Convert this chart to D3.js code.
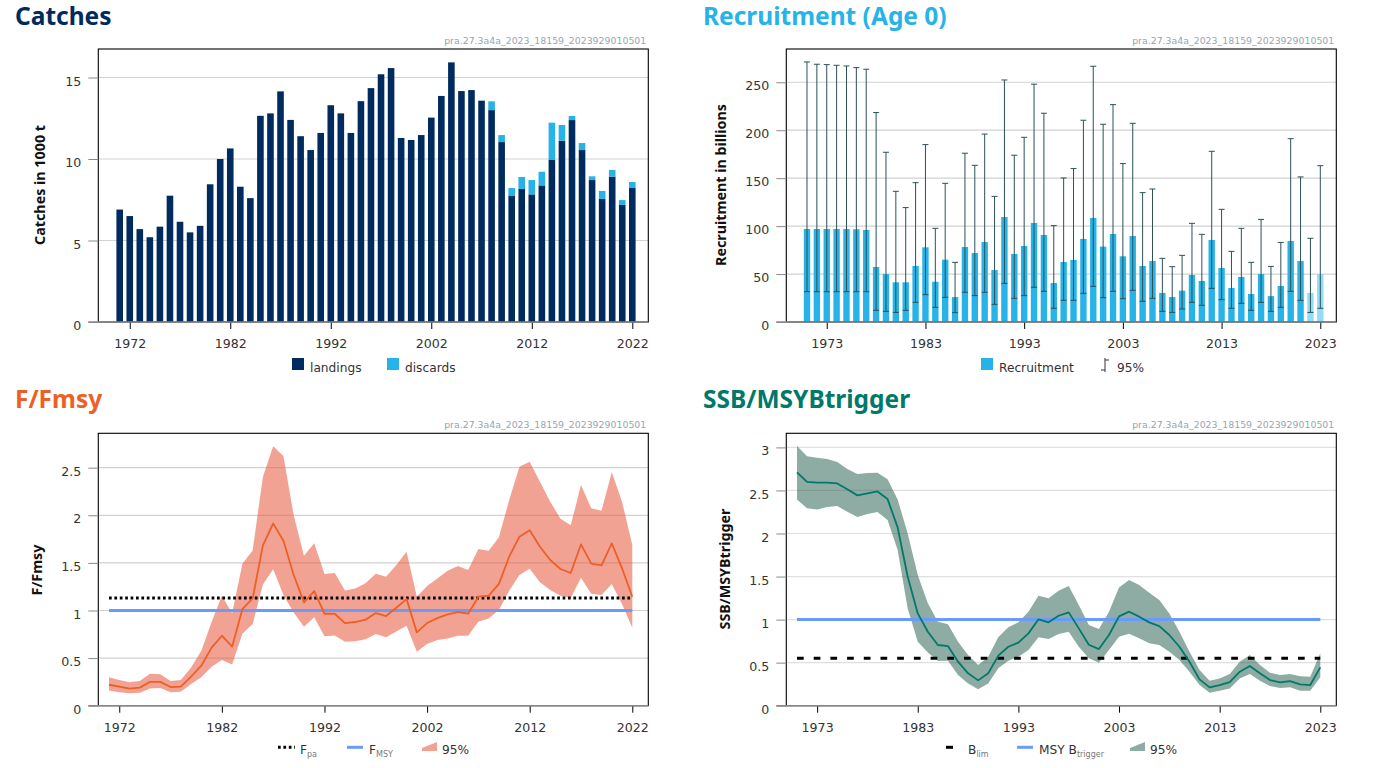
<!DOCTYPE html>
<html lang='en'>
<head>
   <meta charset='UTF-8'>
   <script src='https://d3js.org/d3.v7.min.js'></script>
   <style>
      html,body{
         margin: 0;
         padding: 0;
         background-color: white;
      }
      text {
         font-family: 'DejaVu Sans', sans-serif;
         fill: #333;
      }
      .title {
         font-family: 'Noto Sans', sans-serif;
         font-weight: 700;
         font-size: 24.5px;
      }
      .stamp { font-size: 9.4px; fill: #98a5b3; text-anchor: end; }
      .ylabel { font-family: 'Noto Sans', sans-serif; font-size: 14.3px; font-weight: 700; fill: #111; text-anchor: middle; }
      .tick text { font-size: 12.6px; }
      .legend { font-size: 12.2px; }
      .sub { font-size: 8px; fill: #777; }
   </style>
</head>
<body>
   <div id='tavola'></div>

   <script>
   var stamp = 'pra.27.3a4a_2023_18159_2023929010501';

   var catchYears = d3.range(1971, 2023);
   var landings = [6.9,6.5,5.7,5.2,5.85,7.75,6.15,5.5,5.9,8.45,10.0,10.65,8.3,7.6,12.65,12.8,14.15,12.4,11.4,10.55,11.6,13.3,12.8,11.6,13.55,14.35,15.2,15.58,11.29,11.17,11.47,12.54,13.87,15.93,14.17,14.23,13.58,13.0,11.04,7.73,8.16,7.83,8.38,9.94,11.12,12.39,10.55,8.71,7.55,8.92,7.18,8.22];
   var discards = [0,0,0,0,0,0,0,0,0,0,0,0,0,0,0,0,0,0,0,0,0,0,0,0,0,0,0,0,0,0,0,0,0,0,0,0,0,0.54,0.43,0.49,0.74,0.88,0.84,2.29,0.97,0.25,0.43,0.23,0.49,0.41,0.3,0.37];
   var catchTicks = [0,5,10,15];
   var catchYearTicks = [1972,1982,1992,2002,2012,2022];

   var recYears = d3.range(1971, 2024);
   var recruitment = [97,97,97,97,97,96.7,96,57.4,50,41.4,41.4,58.4,77.9,42,65,26,78.2,72,83.4,54.2,109.5,71,79.3,103.3,90.8,40.7,62.6,64.7,86.6,108.5,78.6,91.8,68.5,89.7,58.4,63.6,30.3,26,32.7,49,42.8,85.5,56.3,35.5,47,29.2,50,27,37.5,84.5,63.6,30.3,50];
   var recHigh = [271.2,268.8,268.4,267.7,267,265.3,263.6,218.4,177,136.3,119.3,145.3,185,97.7,144.6,62.2,176,163.4,196,131,252.4,173.9,192.6,248,217.7,100.5,150.2,160,210.4,266.7,206.2,226.7,165.2,207.2,134.9,138.7,66.4,57.7,69.5,102.9,91.4,178,117.5,73.7,97.7,62.2,107,58,83,191.2,151.3,87.3,163];
   var recLow = [31.6,31.6,31.6,31.6,31.6,31.6,31.6,12.2,11.1,10,12.2,20.5,28.5,15.3,25.7,9.7,31,27.5,31,18.4,40.3,24.7,27.5,36.2,32,14.3,22.6,22.6,29.9,37.2,25.4,32,24.3,33,21.6,24.7,11.1,10,13.6,20.5,17.4,35.1,23.3,14.3,19.5,12.2,20.5,11.1,15.3,32,22.6,10,14.3];
   var recTicks = [0,50,100,150,200,250];
   var recYearTicks = [1973,1983,1993,2003,2013,2023];

   var fYears = d3.range(1971, 2023);
   var fValues = [.22,.20,.18,.19,.25,.25,.196,.2,.305,.42,.61,.735,.62,1.015,1.127,1.684,1.915,1.733,1.373,1.085,1.204,.966,.966,.868,.879,.903,.973,.942,1.029,1.12,.77,.868,.92,.96,.984,.966,1.145,1.155,1.28,1.565,1.775,1.842,1.67,1.53,1.436,1.394,1.695,1.492,1.474,1.705,1.443,1.145];
   var fHigh = [.30,.27,.245,.26,.335,.33,.26,.27,.40,.578,.88,1.155,.97,1.49,1.63,2.405,2.724,2.622,2.0,1.576,1.705,1.383,1.394,1.21,1.232,1.285,1.387,1.355,1.478,1.618,1.145,1.257,1.337,1.418,1.467,1.425,1.646,1.628,1.768,2.16,2.51,2.563,2.353,2.143,1.964,1.894,2.318,2.073,2.048,2.451,2.143,1.688];
   var fLow = [.16,.14,.13,.137,.18,.185,.14,.147,.228,.30,.41,.48,.434,.756,.858,1.274,1.432,1.162,.98,.83,.928,.73,.738,.672,.676,.697,.753,.718,.78,.84,.567,.648,.69,.707,.735,.735,.882,.917,1.005,1.208,1.373,1.439,1.296,1.215,1.155,1.131,1.345,1.176,1.162,1.278,1.068,.82];
   var fTicks = [0,0.5,1,1.5,2,2.5];
   var fYearTicks = [1972,1982,1992,2002,2012,2022];
   var fpa = 1.13;
   var fmsy = 1;

   var ssbYears = d3.range(1971, 2024);
   var ssbValues = [2.71,2.60,2.59,2.59,2.582,2.513,2.443,2.466,2.489,2.40,2.071,1.498,1.072,.859,.705,.693,.511,.376,.294,.376,.581,.685,.732,.84,1.003,.968,1.045,1.084,.898,.708,.658,.821,1.038,1.092,1.034,.968,.925,.821,.685,.511,.306,.213,.24,.275,.395,.461,.376,.298,.271,.286,.248,.24,.445];
   var ssbHigh = [3.016,2.896,2.88,2.865,2.83,2.749,2.69,2.702,2.706,2.629,2.396,2.0,1.518,1.189,.976,.945,.743,.588,.472,.569,.794,.91,.968,1.092,1.278,1.247,1.336,1.39,1.169,.937,.89,1.092,1.374,1.46,1.401,1.312,1.227,1.072,.859,.627,.414,.29,.317,.368,.511,.588,.472,.383,.356,.368,.341,.337,.608];
   var ssbLow = [2.396,2.292,2.28,2.307,2.319,2.253,2.191,2.226,2.249,2.156,1.808,1.13,.743,.619,.519,.523,.356,.259,.19,.259,.434,.523,.569,.647,.794,.774,.832,.859,.685,.55,.5,.647,.801,.836,.782,.724,.705,.627,.53,.395,.24,.151,.174,.201,.317,.368,.29,.228,.205,.213,.174,.174,.329];
   var ssbTicks = [0,0.5,1,1.5,2,2.5,3];
   var ssbYearTicks = [1973,1983,1993,2003,2013,2023];
   var blim = 0.55;
   var msyBtrigger = 1;

   var navy = '#002b5f', cyan = '#28b3e8', orange = '#ed5f26', green = '#00786a', blue = '#6a9bfa';

   var svg = d3.select('#tavola').append('svg')
      .attr('width', 1376)
      .attr('height', 768)
      .style('display', 'block');

   // one panel: title, frame, grid and both axes. marks go in the returned group
   function panel(opt) {
      var w = 550, h = opt.h;
      var g = svg.append('g').attr('transform', 'translate(' + opt.left + ',' + opt.top + ')');

      svg.append('text').attr('class', 'title')
         .attr('x', opt.titleX).attr('y', opt.titleY)
         .style('fill', opt.color)
         .text(opt.title);
      svg.append('text').attr('class', 'stamp')
         .attr('x', opt.left + 548).attr('y', opt.top - 5)
         .text(stamp);

      var x = d3.scaleLinear().domain(opt.xDomain).range(opt.xRange);
      var y = d3.scaleLinear().domain([0, opt.yMax]).range([h, 0]);

      g.selectAll('.grid').data(opt.yTicks.slice(1)).enter().append('line')
         .attr('class', 'grid')
         .attr('x1', 0).attr('x2', w)
         .attr('y1', function (d) { return y(d); })
         .attr('y2', function (d) { return y(d); })
         .attr('stroke', opt.gridColor).attr('stroke-width', 1.2);

      var marks = g.append('g');

      g.append('rect').attr('width', w).attr('height', h)
         .attr('fill', 'none').attr('stroke', 'black').attr('stroke-width', 1.1);

      var yAxis = g.append('g')
         .call(d3.axisLeft(y).tickValues(opt.yTicks).tickFormat(function (d) { return d; }).tickSize(10).tickPadding(7));
      yAxis.select('.domain').remove();
      yAxis.selectAll('.tick line').attr('stroke', '#8a8a8a').attr('stroke-width', 1);
      yAxis.selectAll('.tick text').attr('dy', '0.6em');

      var xAxis = g.append('g').attr('transform', 'translate(0,' + h + ')')
         .call(d3.axisBottom(x).tickValues(opt.xTicks).tickFormat(function (d) { return d; }).tickSize(7).tickPadding(10));
      xAxis.select('.domain').remove();

      g.append('line').attr('x1', -10).attr('x2', w).attr('y1', h).attr('y2', h)
         .attr('stroke', '#8a8a8a').attr('stroke-width', 1.5);

      svg.append('text').attr('class', 'ylabel')
         .attr('transform', 'translate(' + opt.labelX + ',' + opt.labelY + ') rotate(-90)')
         .text(opt.label);

      return { marks: marks, x: x, y: y };
   }

   // legend helpers
   function legendSquare(x, color) {
      svg.append('rect').attr('x', x).attr('y', 358).attr('width', 12).attr('height', 12).attr('fill', color);
   }
   function legendText(x, y, label, sub) {
      var t = svg.append('text').attr('class', 'legend').attr('x', x).attr('y', y).text(label);
      if (sub) t.append('tspan').attr('class', 'sub').attr('dy', 2.5).text(sub);
   }
   function legendLine(x1, x2, color, dash) {
      svg.append('line').attr('x1', x1).attr('x2', x2).attr('y1', 747.3).attr('y2', 747.3)
         .attr('stroke', color).attr('stroke-width', 3).attr('stroke-dasharray', dash);
   }
   function legendBand(x, color, alpha) {
      var p = d3.path();
      p.moveTo(x, 748); p.lineTo(x + 15, 742); p.lineTo(x + 15, 751); p.lineTo(x, 751); p.closePath();
      svg.append('path').attr('d', p.toString()).attr('fill', color).attr('fill-opacity', alpha);
   }

   function band(p, years, low, high, color, alpha) {
      var area = d3.area()
         .x(function (d) { return p.x(d); })
         .y0(function (d, i) { return p.y(low[i]); })
         .y1(function (d, i) { return p.y(high[i]); });
      p.marks.append('path').attr('d', area(years)).attr('fill', color).attr('fill-opacity', alpha);
   }
   function refLine(p, years, value, color, dash) {
      p.marks.append('line')
         .attr('x1', p.x(years[0])).attr('x2', p.x(years[years.length - 1]))
         .attr('y1', p.y(value)).attr('y2', p.y(value))
         .attr('stroke', color).attr('stroke-width', 3).attr('stroke-dasharray', dash);
   }
   function valueLine(p, years, values, color, width) {
      var line = d3.line()
         .x(function (d) { return p.x(d); })
         .y(function (d, i) { return p.y(values[i]); });
      p.marks.append('path').attr('d', line(years)).attr('fill', 'none')
         .attr('stroke', color).attr('stroke-width', width).attr('stroke-linejoin', 'round');
   }

   // Catches
   var p1 = panel({
      left: 98.3, top: 49, h: 273, title: 'Catches', titleX: 15, titleY: 25, color: navy, gridColor: '#d2d2d2',
      xDomain: [1971, 2022], xRange: [21.4, 534], xTicks: catchYearTicks,
      yMax: 16.75, yTicks: catchTicks,
      label: 'Catches in 1000 t', labelX: 45, labelY: 185
   });
   p1.marks.selectAll('.landing').data(catchYears).enter().append('rect')
      .attr('x', function (d) { return p1.x(d) - 3.3; })
      .attr('width', 6.6)
      .attr('y', function (d, i) { return p1.y(landings[i]); })
      .attr('height', function (d, i) { return p1.y(0) - p1.y(landings[i]); })
      .attr('fill', navy);
   p1.marks.selectAll('.discard').data(catchYears).enter().append('rect')
      .attr('x', function (d) { return p1.x(d) - 3.3; })
      .attr('width', 6.6)
      .attr('y', function (d, i) { return p1.y(landings[i] + discards[i]); })
      .attr('height', function (d, i) { return p1.y(0) - p1.y(discards[i]); })
      .attr('fill', cyan);
   legendSquare(292, navy);
   legendText(310, 372, 'landings');
   legendSquare(387, cyan);
   legendText(405, 372, 'discards');

   // Recruitment
   var p2 = panel({
      left: 786.3, top: 49, h: 273, title: 'Recruitment (Age 0)', titleX: 703, titleY: 25, color: cyan, gridColor: '#d2d2d2',
      xDomain: [1971, 2023], xRange: [20.7, 534], xTicks: recYearTicks,
      yMax: 284.7, yTicks: recTicks,
      label: 'Recruitment in billions', labelX: 726, labelY: 185
   });
   p2.marks.selectAll('.bar').data(recYears).enter().append('rect')
      .attr('x', function (d) { return p2.x(d) - 3.2; })
      .attr('width', 6.4)
      .attr('y', function (d, i) { return p2.y(recruitment[i]); })
      .attr('height', function (d, i) { return p2.y(0) - p2.y(recruitment[i]); })
      .attr('fill', function (d) { return d >= 2022 ? '#93dcf8' : cyan; });
   var errs = p2.marks.selectAll('.err').data(recYears).enter().append('g').attr('stroke', '#2b5157').attr('stroke-width', 1);
   errs.append('line')
      .attr('x1', function (d) { return p2.x(d); }).attr('x2', function (d) { return p2.x(d); })
      .attr('y1', function (d, i) { return p2.y(recLow[i]); })
      .attr('y2', function (d, i) { return p2.y(recHigh[i]); });
   errs.append('line')
      .attr('x1', function (d) { return p2.x(d) - 3; }).attr('x2', function (d) { return p2.x(d) + 3; })
      .attr('y1', function (d, i) { return p2.y(recHigh[i]); })
      .attr('y2', function (d, i) { return p2.y(recHigh[i]); });
   errs.append('line')
      .attr('x1', function (d) { return p2.x(d) - 3; }).attr('x2', function (d) { return p2.x(d) + 3; })
      .attr('y1', function (d, i) { return p2.y(recLow[i]); })
      .attr('y2', function (d, i) { return p2.y(recLow[i]); });
   legendSquare(981, cyan);
   legendText(999, 372, 'Recruitment');
   svg.append('path').attr('d', 'M1105 358V372M1105 360H1109M1101 370H1105').attr('fill', 'none').attr('stroke', '#333').attr('stroke-width', 1);
   legendText(1117, 372, '95%');

   // F/Fmsy
   var p3 = panel({
      left: 98.3, top: 433.3, h: 272.4, title: 'F/Fmsy', titleX: 15, titleY: 408, color: orange, gridColor: '#d2d2d2',
      xDomain: [1971, 2022], xRange: [10.7, 534], xTicks: fYearTicks,
      yMax: 2.861, yTicks: fTicks,
      label: 'F/Fmsy', labelX: 42, labelY: 570
   });
   band(p3, fYears, fLow, fHigh, '#e8553a', 0.55);
   refLine(p3, fYears, fpa, 'black', '2.7 2.7');
   refLine(p3, fYears, fmsy, blue);
   valueLine(p3, fYears, fValues, orange, 1.8);
   legendLine(278, 295, 'black', '2.7 2.7');
   legendText(300, 754, 'F', 'pa');
   legendLine(347, 363, blue);
   legendText(369, 754, 'F', 'MSY');
   legendBand(422, '#e8553a', 0.55);
   legendText(442, 754, '95%');

   // SSB
   var p4 = panel({
      left: 786.3, top: 433.3, h: 272.4, title: 'SSB/MSYBtrigger', titleX: 703, titleY: 408, color: green, gridColor: '#e0e0e0',
      xDomain: [1971, 2023], xRange: [10.7, 534], xTicks: ssbYearTicks,
      yMax: 3.164, yTicks: ssbTicks,
      label: 'SSB/MSYBtrigger', labelX: 730, labelY: 569
   });
   band(p4, ssbYears, ssbLow, ssbHigh, '#1d5947', 0.5);
   refLine(p4, ssbYears, blim, 'black', '6.7 10');
   refLine(p4, ssbYears, msyBtrigger, blue);
   valueLine(p4, ssbYears, ssbValues, green, 1.8);
   legendLine(946, 953, 'black');
   legendText(968, 754, 'B', 'lim');
   legendLine(1017, 1033, blue);
   legendText(1039, 754, 'MSY B', 'trigger');
   legendBand(1130, '#1d5947', 0.5);
   legendText(1150, 754, '95%');
   </script>
</body>
</html>
